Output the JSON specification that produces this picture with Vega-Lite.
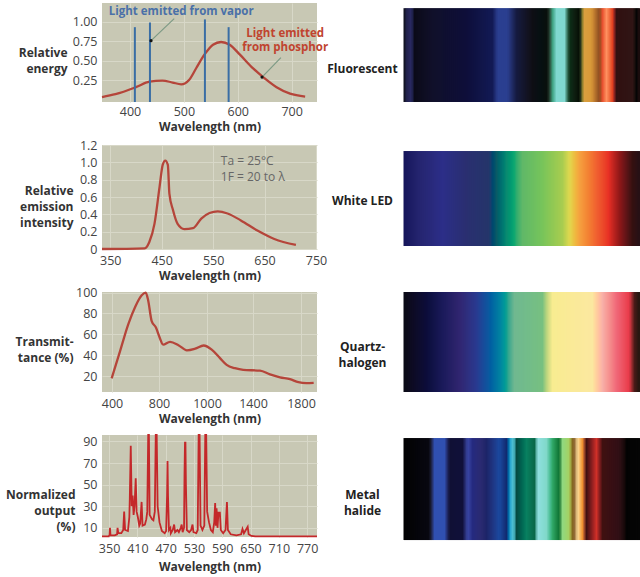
{"$schema":"https://vega.github.io/schema/vega-lite/v6.json","background":"white","padding":{"left":5,"top":3,"right":0,"bottom":3},"bounds":"flush","columns":2,"spacing":{"row":43,"column":87},"resolve":{"scale":{"color":"independent"}},
"config":{"font":"Open Sans","view":{"stroke":null},"axis":{"domain":false,"ticks":false,"labelFont":"Open Sans","labelFontSize":12.5,"labelColor":"#444444","titleFont":"Open Sans","titleFontSize":12,"titleFontWeight":"bold","titleColor":"#333333","gridColor":"#d8d8c8","gridWidth":1,"titleLineHeight":16}},
"datasets":{"bands":[{"p":1},{"p":3},{"p":5},{"p":7},{"p":9},{"p":11},{"p":13},{"p":15},{"p":17},{"p":19},{"p":21},{"p":23},{"p":25},{"p":27},{"p":29},{"p":31},{"p":33},{"p":35},{"p":37},{"p":39},{"p":41},{"p":43},{"p":45},{"p":47},{"p":49},{"p":51},{"p":53},{"p":55},{"p":57},{"p":59},{"p":61},{"p":63},{"p":65},{"p":67},{"p":69},{"p":71},{"p":73},{"p":75},{"p":77},{"p":79},{"p":81},{"p":83},{"p":85},{"p":87},{"p":89},{"p":91},{"p":93},{"p":95},{"p":97},{"p":99},{"p":101},{"p":103},{"p":105},{"p":107},{"p":109},{"p":111},{"p":113},{"p":115},{"p":117},{"p":119},{"p":121},{"p":123},{"p":125},{"p":127},{"p":129},{"p":131},{"p":133},{"p":135},{"p":137},{"p":139},{"p":141},{"p":143},{"p":145},{"p":147},{"p":149},{"p":151},{"p":153},{"p":155},{"p":157},{"p":159},{"p":161},{"p":163},{"p":165},{"p":167},{"p":169},{"p":171},{"p":173},{"p":175},{"p":177},{"p":179},{"p":181},{"p":183},{"p":185},{"p":187},{"p":189},{"p":191},{"p":193},{"p":195},{"p":197},{"p":199},{"p":201},{"p":203},{"p":205},{"p":207},{"p":209},{"p":211},{"p":213},{"p":215},{"p":217},{"p":219},{"p":221},{"p":223},{"p":225},{"p":227},{"p":229},{"p":231},{"p":233},{"p":235}]},
"concat":[
{"width":215,"height":99,"view":{"fill":"#c8c8b4","stroke":null},
"encoding":{"x":{"field":"wavelength","type":"quantitative","scale":{"domain":[348,747],"nice":false,"zero":false},"axis":{"values":[400,500,600,700],"title":"Wavelength (nm)","labelPadding":3,"titlePadding":4}},"y":{"field":"value","type":"quantitative","scale":{"domain":[-0.03,1.24],"nice":false,"zero":false},"axis":{"values":[0.25,0.5,0.75,1],"format":".2f","labelPadding":5,"title":["Relative","energy"],"titleAngle":0,"titleAlign":"right","titleBaseline":"middle","titleX":-35,"titleY":49}}},
"layer":[
{"data":{"values":[{"wavelength":348,"value":0.034},{"wavelength":373,"value":0.07},{"wavelength":411,"value":0.16},{"wavelength":436,"value":0.23},{"wavelength":460,"value":0.245},{"wavelength":479,"value":0.22},{"wavelength":495,"value":0.197},{"wavelength":510,"value":0.256},{"wavelength":523,"value":0.406},{"wavelength":538,"value":0.577},{"wavelength":554,"value":0.705},{"wavelength":569,"value":0.74},{"wavelength":585,"value":0.705},{"wavelength":604,"value":0.577},{"wavelength":629,"value":0.397},{"wavelength":647,"value":0.29},{"wavelength":672,"value":0.16},{"wavelength":697,"value":0.077},{"wavelength":725,"value":0.04}]},"mark":{"type":"line","color":"#b5453a","strokeWidth":2.3,"interpolate":"monotone"}},
{"data":{"values":[{"wavelength":409,"top":0.93},{"wavelength":437,"top":0.99},{"wavelength":539,"top":1.03},{"wavelength":583,"top":0.93}]},"mark":{"type":"rule","color":"#3a6ea5","strokeWidth":2},"encoding":{"y":{"field":"top","type":"quantitative"},"y2":{"datum":-0.03}}},
{"data":{"values":[{"wavelength":482,"value":1.04,"x2":439,"y2":0.757},{"wavelength":680,"value":0.54,"x2":645,"y2":0.29}]},"mark":{"type":"rule","color":"#7d9a85","strokeWidth":1.2},"encoding":{"x2":{"field":"x2"},"y2":{"field":"y2"}}},
{"data":{"values":[{"wavelength":439,"value":0.757},{"wavelength":645,"value":0.29}]},"mark":{"type":"point","filled":true,"color":"#111111","size":10,"opacity":1}},
{"data":{"values":[{"wavelength":495,"value":1.13,"t":"Light emitted from vapor"}]},"mark":{"type":"text","color":"#4a70a8","fontSize":11.5,"fontWeight":"bold"},"encoding":{"text":{"field":"t"}}},
{"data":{"values":[{"wavelength":688,"value":0.846,"t":"Light emitted"},{"wavelength":688,"value":0.667,"t":"from phosphor"}]},"mark":{"type":"text","color":"#c0442f","fontSize":11.5,"fontWeight":"bold"},"encoding":{"text":{"field":"t"}}}
]},
{"width":236,"height":99,"data":{"name":"bands"},"mark":{"type":"rule","strokeWidth":3},
"encoding":{"x":{"field":"p","type":"quantitative","scale":{"domain":[0,236],"nice":false,"zero":false},"axis":null},"y":{"datum":0,"type":"quantitative","scale":{"domain":[0,1.055],"nice":false},"axis":{"title":"Fluorescent","labels":false,"grid":false,"titleAngle":0,"titleAlign":"center","titleBaseline":"middle","titleX":-42,"titleY":65,"titleFontSize":12,"titleColor":"#222222"}},"y2":{"datum":1},
"color":{"field":"p","type":"quantitative","legend":null,"scale":{"type":"linear","domain":[0,3,8,11,29,63,89,94,104,113,129,144,149,153,161,166,176,180,188,196,199,203,209,213,229,233,236],"range":["#0a0a14","#20204a","#2a2a66","#0a0a18","#10102a","#0e0e3a","#121a55","#2a3f90","#2a3f90","#151a40","#0e0e14","#0a100c","#3fa080","#80d8d0","#80d8d0","#0a3018","#050a05","#d8a040","#d89838","#8a4a20","#e85030","#ff9060","#e04020","#301010","#301515","#050505","#200f10"]}}}},
{"width":215,"height":104,"view":{"fill":"#c8c8b4","stroke":null},
"encoding":{"x":{"field":"wavelength","type":"quantitative","scale":{"domain":[334,752],"nice":false,"zero":false},"axis":{"values":[350,450,550,650,750],"title":"Wavelength (nm)","labelPadding":5,"titlePadding":4}},"y":{"field":"value","type":"quantitative","scale":{"domain":[0,1.2],"nice":false},"axis":{"values":[0,0.2,0.4,0.6,0.8,1,1.2],"labelExpr":"datum.value==0?'0':format(datum.value,'.1f')","labelPadding":5,"title":["Relative","emission","intensity"],"titleAngle":0,"titleAlign":"right","titleBaseline":"middle","titleX":-29,"titleY":45}}},
"layer":[
{"data":{"values":[{"wavelength":334,"value":0},{"wavelength":417,"value":0.008},{"wavelength":426,"value":0.08},{"wavelength":436,"value":0.29},{"wavelength":446,"value":0.72},{"wavelength":452,"value":0.97},{"wavelength":457,"value":1.02},{"wavelength":462,"value":0.97},{"wavelength":465,"value":0.64},{"wavelength":472,"value":0.45},{"wavelength":481,"value":0.29},{"wavelength":494,"value":0.23},{"wavelength":511,"value":0.24},{"wavelength":527,"value":0.35},{"wavelength":543,"value":0.415},{"wavelength":559,"value":0.434},{"wavelength":578,"value":0.41},{"wavelength":604,"value":0.33},{"wavelength":637,"value":0.21},{"wavelength":669,"value":0.116},{"wavelength":711,"value":0.047}]},"mark":{"type":"line","color":"#b5453a","strokeWidth":2.3,"interpolate":"monotone"}},
{"data":{"values":[{"wavelength":565,"value":1.015,"t":"Ta = 25°C"},{"wavelength":565,"value":0.83,"t":"1F = 20 to λ"}]},"mark":{"type":"text","align":"left","color":"#666666","fontSize":12},"encoding":{"text":{"field":"t"}}}
]},
{"width":236,"height":104,"data":{"name":"bands"},"mark":{"type":"rule","strokeWidth":3},
"encoding":{"x":{"field":"p","type":"quantitative","scale":{"domain":[0,236],"nice":false,"zero":false},"axis":null},"y":{"datum":0.029,"type":"quantitative","scale":{"domain":[0,1],"nice":false},"axis":{"title":"White LED","labels":false,"grid":false,"titleAngle":0,"titleAlign":"center","titleBaseline":"middle","titleX":-42,"titleY":55,"titleFontSize":12,"titleColor":"#222222"}},"y2":{"datum":0.942},
"color":{"field":"p","type":"quantitative","legend":null,"scale":{"type":"linear","domain":[0,16,39,63,86,93,103,111,119,139,159,166,176,193,205,216,229,236],"range":["#15155a","#252570","#2c2e88","#2a2f70","#25356a","#0a5a66","#0a8a70","#10a870","#60b868","#78c45a","#a8cc50","#e0d850","#f5a040","#f06030","#e83025","#901818","#351010","#251015"]}}}},
{"width":215,"height":100,"view":{"fill":"#c8c8b4","stroke":null},
"data":{"values":[{"wavelength":397,"value":17.7},{"wavelength":468,"value":43.7},{"wavelength":539,"value":69.8},{"wavelength":596,"value":86},{"wavelength":653,"value":97.4},{"wavelength":687,"value":100},{"wavelength":708,"value":92.5},{"wavelength":737,"value":73},{"wavelength":774,"value":66.5},{"wavelength":803,"value":56.7},{"wavelength":817,"value":50.2},{"wavelength":846,"value":52.8},{"wavelength":881,"value":49.6},{"wavelength":916,"value":44.7},{"wavelength":951,"value":46.3},{"wavelength":986,"value":49.3},{"wavelength":1041,"value":45.4},{"wavelength":1113,"value":37.2},{"wavelength":1171,"value":30.7},{"wavelength":1243,"value":27.5},{"wavelength":1315,"value":25.9},{"wavelength":1458,"value":25.2},{"wavelength":1542,"value":21.6},{"wavelength":1625,"value":18.7},{"wavelength":1708,"value":17},{"wavelength":1778,"value":14.1},{"wavelength":1847,"value":13.2},{"wavelength":1911,"value":13.5}]},
"mark":{"type":"line","color":"#b5453a","strokeWidth":2.3,"interpolate":"monotone"},
"encoding":{"x":{"field":"wavelength","type":"quantitative","scale":{"domain":[315,400,800,1000,1400,1800,1940],"range":[0,10,57,105,151,199,215],"nice":false,"zero":false},"axis":{"values":[400,800,1000,1400,1800],"format":"d","title":"Wavelength (nm)","labelPadding":5,"titlePadding":4}},"y":{"field":"value","type":"quantitative","scale":{"domain":[4.7,100.6],"nice":false,"zero":false},"axis":{"values":[20,40,60,80,100],"labelPadding":5,"title":["Transmit-","tance (%)"],"titleAngle":0,"titleAlign":"right","titleBaseline":"middle","titleX":-29,"titleY":49}}}},
{"width":236,"height":100,"data":{"name":"bands"},"mark":{"type":"rule","strokeWidth":3},
"encoding":{"x":{"field":"p","type":"quantitative","scale":{"domain":[0,236],"nice":false,"zero":false},"axis":null},"y":{"datum":0,"type":"quantitative","scale":{"domain":[0,1],"nice":false},"axis":{"title":["Quartz-","halogen"],"labels":false,"grid":false,"titleAngle":0,"titleAlign":"center","titleBaseline":"middle","titleX":-42,"titleY":54,"titleFontSize":12,"titleColor":"#222222"}},"y2":{"datum":1},
"color":{"field":"p","type":"quantitative","legend":null,"scale":{"type":"linear","domain":[0,23,39,56,73,86,96,103,111,139,144,149,189,199,213,226,231,236],"range":["#0a0a14","#0c0c3a","#1a1a5a","#302570","#283a90","#0a5aa0","#0a80a0","#10a090","#70b890","#78c080","#c8d880","#f8ec90","#fbe8a0","#f8b0a8","#f06878","#e83848","#4a1a18","#201510"]}}}},
{"width":215,"height":102,"view":{"fill":"#c8c8b4","stroke":null},
"data":{"values":[{"wavelength":335,"value":2},{"wavelength":349,"value":2.2},{"wavelength":351,"value":3},{"wavelength":352,"value":10},{"wavelength":353,"value":3},{"wavelength":362,"value":3},{"wavelength":367,"value":4},{"wavelength":368,"value":10},{"wavelength":369.5,"value":5},{"wavelength":376,"value":5},{"wavelength":380,"value":8},{"wavelength":382,"value":25},{"wavelength":384,"value":8},{"wavelength":390,"value":7},{"wavelength":393,"value":20},{"wavelength":394,"value":38},{"wavelength":396,"value":86},{"wavelength":398,"value":30},{"wavelength":400,"value":40},{"wavelength":402,"value":22},{"wavelength":404,"value":30},{"wavelength":406.5,"value":56},{"wavelength":408.5,"value":25},{"wavelength":411,"value":20},{"wavelength":414,"value":12},{"wavelength":416,"value":14},{"wavelength":419,"value":34},{"wavelength":421,"value":12},{"wavelength":426,"value":13},{"wavelength":429,"value":18},{"wavelength":431,"value":25},{"wavelength":433,"value":96},{"wavelength":434.5,"value":96},{"wavelength":436,"value":22},{"wavelength":441,"value":18},{"wavelength":444,"value":17},{"wavelength":447,"value":25},{"wavelength":449,"value":96},{"wavelength":451,"value":96},{"wavelength":453,"value":30},{"wavelength":457,"value":15},{"wavelength":462,"value":7},{"wavelength":468,"value":5},{"wavelength":471,"value":7},{"wavelength":473,"value":40},{"wavelength":474,"value":72},{"wavelength":475,"value":40},{"wavelength":477,"value":8},{"wavelength":480,"value":10},{"wavelength":481,"value":5},{"wavelength":485,"value":8},{"wavelength":488,"value":13},{"wavelength":490,"value":6},{"wavelength":495,"value":8},{"wavelength":498,"value":6},{"wavelength":502,"value":10},{"wavelength":504,"value":13},{"wavelength":506,"value":6},{"wavelength":509,"value":10},{"wavelength":510,"value":60},{"wavelength":511,"value":89},{"wavelength":512,"value":89},{"wavelength":513,"value":50},{"wavelength":515,"value":8},{"wavelength":520,"value":6},{"wavelength":524,"value":8},{"wavelength":527,"value":13},{"wavelength":529,"value":6},{"wavelength":535,"value":5},{"wavelength":538,"value":8},{"wavelength":540,"value":96},{"wavelength":542,"value":96},{"wavelength":544,"value":12},{"wavelength":548,"value":8},{"wavelength":552,"value":12},{"wavelength":554,"value":96},{"wavelength":556,"value":96},{"wavelength":558,"value":25},{"wavelength":562,"value":15},{"wavelength":566,"value":8},{"wavelength":570,"value":6},{"wavelength":573,"value":15},{"wavelength":575,"value":33},{"wavelength":576.5,"value":12},{"wavelength":578,"value":28},{"wavelength":580,"value":10},{"wavelength":582,"value":24},{"wavelength":585,"value":24},{"wavelength":587,"value":8},{"wavelength":592,"value":5},{"wavelength":597,"value":8},{"wavelength":600,"value":34},{"wavelength":602,"value":8},{"wavelength":608,"value":4},{"wavelength":620,"value":3},{"wavelength":630,"value":4},{"wavelength":633,"value":9},{"wavelength":636,"value":5},{"wavelength":640,"value":8},{"wavelength":644,"value":11},{"wavelength":646,"value":4},{"wavelength":652,"value":2.5},{"wavelength":660,"value":2},{"wavelength":791,"value":2}]},
"mark":{"type":"line","color":"#c4282a","strokeWidth":1.8},
"encoding":{"x":{"field":"wavelength","type":"quantitative","scale":{"domain":[335,791],"nice":false,"zero":false},"axis":{"values":[350,410,470,530,590,650,710,770],"title":"Wavelength (nm)","labelPadding":5,"titlePadding":7}},"y":{"field":"value","type":"quantitative","scale":{"domain":[1.5,96],"nice":false,"zero":false},"axis":{"values":[10,30,50,70,90],"labelPadding":5,"title":["Normalized","output","(%)"],"titleAngle":0,"titleAlign":"right","titleBaseline":"middle","titleX":-27,"titleY":59}}}},
{"width":236,"height":102,"data":{"name":"bands"},"mark":{"type":"rule","strokeWidth":3},
"encoding":{"x":{"field":"p","type":"quantitative","scale":{"domain":[0,236],"nice":false,"zero":false},"axis":null},"y":{"datum":-0.03,"type":"quantitative","scale":{"domain":[0,1],"nice":false},"axis":{"title":["Metal","halide"],"labels":false,"grid":false,"titleAngle":0,"titleAlign":"center","titleBaseline":"middle","titleX":-42,"titleY":59,"titleFontSize":12,"titleColor":"#222222"}},"y2":{"datum":0.97},
"color":{"field":"p","type":"quantitative","legend":null,"scale":{"type":"linear","domain":[0,26,31,41,46,59,64,69,78,83,96,103,108,111,113,123,131,134,143,149,156,159,166,170,174,179,183,193,199,216,223,236],"range":["#020202","#080810","#3050b0","#3050b0","#101035","#10103a","#3a48a8","#252a80","#2a2a70","#1c2468","#1a4aa0","#102a70","#50c8e0","#40a8b0","#054a40","#088060","#086848","#90e0e0","#80d8c8","#30a868","#0a7030","#90d880","#a8d060","#704818","#ffe0a0","#f09030","#401010","#d03028","#401010","#300f15","#030303","#050505"]}}}}
]}
